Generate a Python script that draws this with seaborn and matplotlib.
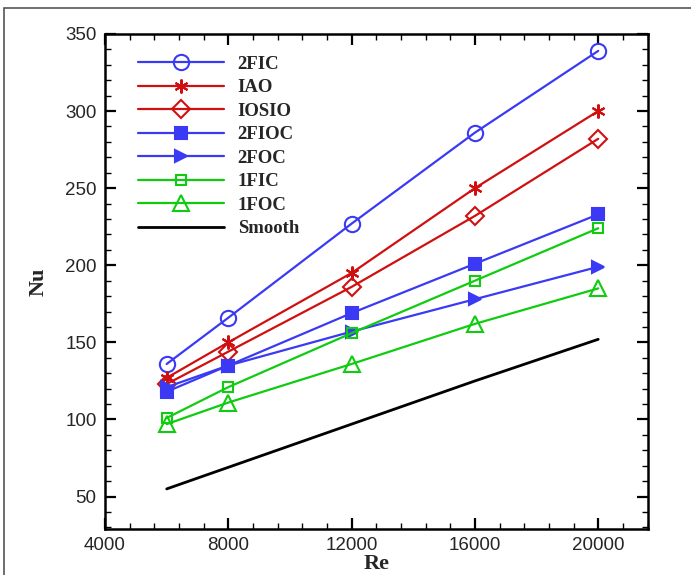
import pandas as pd
import numpy as np
import matplotlib
matplotlib.use("Agg")
import matplotlib.pyplot as plt
import seaborn as sns
from matplotlib.ticker import MultipleLocator
from matplotlib.patches import Rectangle

# data
re_vals = [6000, 8000, 12000, 16000, 20000]
nu_2fic = [136, 166, 227, 286, 339]
nu_iao = [127, 150, 195, 250, 300]
nu_iosio = [123, 144, 186, 232, 282]
nu_2fioc = [118, 135, 169, 201, 233]
nu_2foc = [121, 135, 157, 178, 199]
nu_1fic = [101, 121, 156, 190, 224]
nu_1foc = [97, 111, 136, 162, 185]
nu_smooth = [55, 69, 97, 125, 152]

labels = ["2FIC", "IAO", "IOSIO", "2FIOC", "2FOC", "1FIC", "1FOC", "Smooth"]
series = [nu_2fic, nu_iao, nu_iosio, nu_2fioc, nu_2foc, nu_1fic, nu_1foc, nu_smooth]

blue, red, green = "#3a3af5", "#d01010", "#10cc10"
styles = {
    "2FIC":   dict(color=blue,  marker="o", ms=11, mfc="none", lw=1.6),
    "IAO":    dict(color=red,   marker=(6, 2, 0), ms=10, mfc=red, lw=1.6),
    "IOSIO":  dict(color=red,   marker="D", ms=9, mfc="none", lw=1.6),
    "2FIOC":  dict(color=blue,  marker="s", ms=9, mfc=blue, lw=1.6),
    "2FOC":   dict(color=blue,  marker=">", ms=9, mfc=blue, lw=1.6),
    "1FIC":   dict(color=green, marker="s", ms=7.5, mfc="none", lw=1.6),
    "1FOC":   dict(color=green, marker="^", ms=11, mfc="none", lw=1.6),
    "Smooth": dict(color="black", marker=None, ms=0, mfc="none", lw=2.0),
}

df = pd.DataFrame({
    "Re": re_vals * len(labels),
    "Nu": sum(series, []),
    "case": [lab for lab in labels for _ in re_vals],
})

sns.set_style("ticks")
plt.rcParams["font.family"] = ["Liberation Sans", "DejaVu Sans"]

fig = plt.figure(figsize=(6.91, 5.75), dpi=100)
ax = fig.add_axes([0.152, 0.080, 0.786, 0.861])

for lab in labels:
    st = styles[lab]
    sns.lineplot(data=df[df["case"] == lab], x="Re", y="Nu", ax=ax,
                 color=st["color"], marker=st["marker"], markersize=st["ms"],
                 markerfacecolor=st["mfc"], markeredgecolor=st["color"],
                 markeredgewidth=1.5, linewidth=st["lw"], label=lab)

ax.set_xlim(4000, 21620)
ax.set_ylim(29, 350)
ax.xaxis.set_major_locator(MultipleLocator(4000))
ax.xaxis.set_minor_locator(MultipleLocator(800))
ax.yaxis.set_major_locator(MultipleLocator(50))
ax.yaxis.set_minor_locator(MultipleLocator(10))
ax.set_yticks([50, 100, 150, 200, 250, 300, 350])
ax.tick_params(which="both", direction="in", top=True, right=True,
               labelsize=13.5, color="black")
ax.tick_params(which="major", length=8, width=1.6, pad=6)
ax.tick_params(which="minor", length=4.5, width=1.0)
for sp in ax.spines.values():
    sp.set_linewidth(1.8)
    sp.set_color("black")

ax.set_xlabel("Re", fontsize=16, fontweight="bold", family="Liberation Serif", labelpad=0)
ax.set_ylabel("Nu", fontsize=16, fontweight="bold", family="Liberation Serif", labelpad=12)

ax.legend(loc="upper left", bbox_to_anchor=(0.03, 0.99), frameon=False,
          prop={"family": "Liberation Serif", "weight": "bold", "size": 13.5},
          handlelength=4.6, handletextpad=0.7, labelspacing=0.34)

# thin frame around the whole picture
fig.patches.append(Rectangle((0.006, -0.02), 1.2, 1.006, transform=fig.transFigure,
                             fill=False, edgecolor="#555555", linewidth=1.2))

fig.savefig("out.png", dpi=100)
